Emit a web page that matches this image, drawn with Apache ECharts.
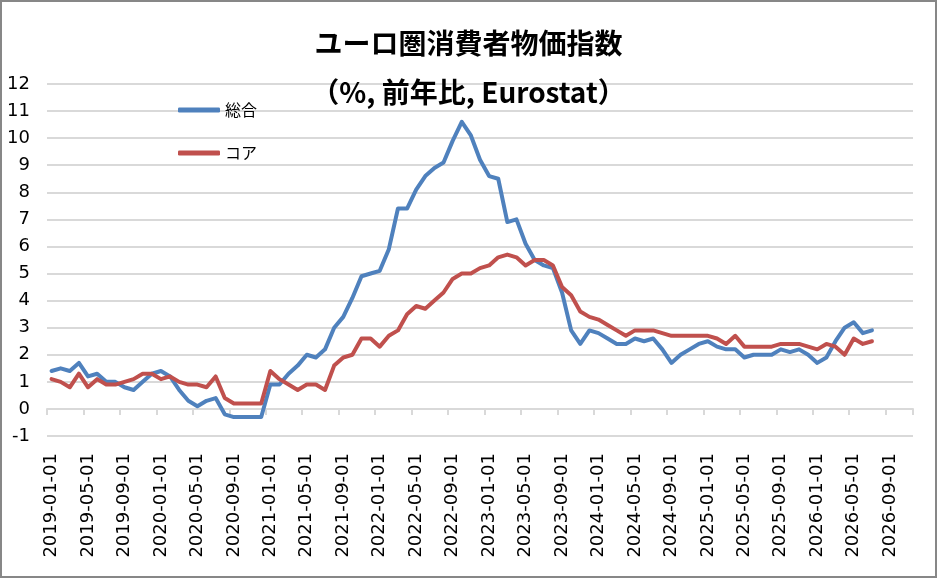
<!DOCTYPE html>
<html>
<head>
<meta charset="utf-8">
<script src="https://cdn.jsdelivr.net/npm/echarts@6/dist/echarts.min.js"></script>
<style>
  body { margin: 0; background: #fff; }
  #main { position: absolute; left: 0; top: 0; width: 937px; height: 578px; }
  #frame { position: absolute; left: 0; top: 0; width: 937px; height: 578px;
           box-sizing: border-box; border: 2px solid #878787; pointer-events: none; }
</style>
</head>
<body>
<div id="main"></div>
<div id="frame"></div>
<script>
// 月次ラベル 2019-01-01 〜 2026-11-01
var months = [];
for (var y = 2019; y <= 2026; y++) {
  for (var m = 1; m <= 12; m++) {
    if (y === 2026 && m > 11) break;
    months.push(y + '-' + (m < 10 ? '0' + m : m) + '-01');
  }
}

// 総合 (HICP, 前年比)
var headline = [
  1.4, 1.5, 1.4, 1.7, 1.2, 1.3, 1.0, 1.0, 0.8, 0.7, 1.0, 1.3,
  1.4, 1.2, 0.7, 0.3, 0.1, 0.3, 0.4, -0.2, -0.3, -0.3, -0.3, -0.3,
  0.9, 0.9, 1.3, 1.6, 2.0, 1.9, 2.2, 3.0, 3.4, 4.1, 4.9, 5.0,
  5.1, 5.9, 7.4, 7.4, 8.1, 8.6, 8.9, 9.1, 9.9, 10.6, 10.1, 9.2,
  8.6, 8.5, 6.9, 7.0, 6.1, 5.5, 5.3, 5.2, 4.3, 2.9, 2.4, 2.9,
  2.8, 2.6, 2.4, 2.4, 2.6, 2.5, 2.6, 2.2, 1.7, 2.0, 2.2, 2.4,
  2.5, 2.3, 2.2, 2.2, 1.9, 2.0, 2.0, 2.0, 2.2, 2.1, 2.2, 2.0,
  1.7, 1.9, 2.5, 3.0, 3.2, 2.8, 2.9
];

// コア
var core = [
  1.1, 1.0, 0.8, 1.3, 0.8, 1.1, 0.9, 0.9, 1.0, 1.1, 1.3, 1.3,
  1.1, 1.2, 1.0, 0.9, 0.9, 0.8, 1.2, 0.4, 0.2, 0.2, 0.2, 0.2,
  1.4, 1.1, 0.9, 0.7, 0.9, 0.9, 0.7, 1.6, 1.9, 2.0, 2.6, 2.6,
  2.3, 2.7, 2.9, 3.5, 3.8, 3.7, 4.0, 4.3, 4.8, 5.0, 5.0, 5.2,
  5.3, 5.6, 5.7, 5.6, 5.3, 5.5, 5.5, 5.3, 4.5, 4.2, 3.6, 3.4,
  3.3, 3.1, 2.9, 2.7, 2.9, 2.9, 2.9, 2.8, 2.7, 2.7, 2.7, 2.7,
  2.7, 2.6, 2.4, 2.7, 2.3, 2.3, 2.3, 2.3, 2.4, 2.4, 2.4, 2.3,
  2.2, 2.4, 2.3, 2.0, 2.6, 2.4, 2.5
];

var jp = '"Noto Sans CJK JP", sans-serif';
var num = '"DejaVu Sans", Verdana, sans-serif';

var myChart = echarts.init(document.getElementById('main'));
var option = {
  animation: false,
  title: [{
    text: 'ユーロ圏消費者物価指数',
    left: 'center', top: 24,
    textStyle: { fontFamily: jp, fontWeight: 'bold', fontSize: 28, color: '#000' }
  }, {
    text: '（%, 前年比, Eurostat）',
    left: 'center', top: 73,
    textStyle: { fontFamily: jp, fontWeight: 'bold', fontSize: 28, color: '#000' }
  }],
  legend: {
    orient: 'vertical',
    left: 173, top: 97,
    itemWidth: 42, itemHeight: 5, itemGap: 27,
    icon: 'roundRect',
    data: ['総合', 'コア'],
    textStyle: { fontFamily: jp, fontSize: 16, color: '#000' }
  },
  grid: { left: 47, right: 24, top: 84, bottom: 142 },
  xAxis: [{
    type: 'category',
    data: months,
    boundaryGap: true,
    axisLine: { show: false, onZero: false },
    axisTick: { show: false },
    axisLabel: {
      interval: 3, rotate: 90, margin: 17,
      fontFamily: num, fontSize: 18, color: '#000'
    }
  }, {
    type: 'category',
    data: months,
    position: 'bottom',
    boundaryGap: true,
    axisLine: { show: true, onZero: true, lineStyle: { color: '#d9d9d9', width: 2 } },
    axisTick: { show: true, interval: 3, length: 6, lineStyle: { color: '#d9d9d9', width: 2 } },
    axisLabel: { show: false }
  }],
  yAxis: {
    type: 'value',
    min: -1, max: 12, interval: 1,
    axisLine: { show: false },
    axisTick: { show: false },
    axisLabel: { margin: 17, fontFamily: num, fontSize: 18, color: '#000' },
    splitLine: { lineStyle: { color: '#d9d9d9', width: 2 } }
  },
  series: [{
    name: '総合',
    type: 'line',
    data: headline,
    symbol: 'none',
    itemStyle: { color: '#4f81bd' },
    lineStyle: { color: '#4f81bd', width: 4, join: 'round', cap: 'round' }
  }, {
    name: 'コア',
    type: 'line',
    data: core,
    symbol: 'none',
    itemStyle: { color: '#c0504d' },
    lineStyle: { color: '#c0504d', width: 4, join: 'round', cap: 'round' }
  }]
};
myChart.setOption(option);
</script>
</body>
</html>
